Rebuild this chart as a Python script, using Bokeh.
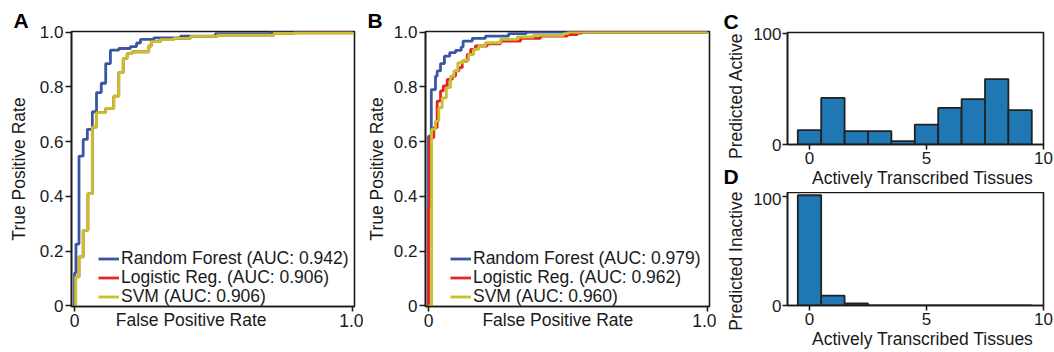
import math
from bokeh.plotting import figure
from bokeh.layouts import row, column
from bokeh.models import Range1d, Legend, LegendItem, FixedTicker, Title
from bokeh.embed import file_html
from bokeh.resources import INLINE

FONT = "Liberation Sans"
INK = "#1a1a1a"
C_RF = "#3a55a5"
C_LR = "#ec2128"
C_SVM = "#c4c230"
HIST_FILL = "#1f77b4"
HIST_EDGE = "#222222"
NB = "\u00a0"

# ---------------- data ----------------
# Panel A ROC curves (step vertices)
a_rf_fpr = [0, 0, 0.005, 0.016, 0.031, 0.046, 0.064, 0.079, 0.096, 0.112, 0.129, 0.159, 0.201, 0.223, 0.237, 0.285, 0.381, 0.507, 0.705, 0.79, 1.0]
a_rf_tpr = [0, 0.12, 0.226, 0.547, 0.608, 0.645, 0.709, 0.779, 0.813, 0.885, 0.934, 0.94, 0.947, 0.96, 0.973, 0.979, 0.985, 0.994, 0.998, 1.0, 1.0]
a_lr_fpr = [0, 0.004, 0.016, 0.031, 0.048, 0.064, 0.079, 0.112, 0.141, 0.159, 0.175, 0.189, 0.207, 0.267, 0.276, 0.309, 0.357, 0.417, 0.513, 0.717, 0.79, 1.0]
a_lr_tpr = [0, 0.106, 0.179, 0.276, 0.41, 0.653, 0.706, 0.721, 0.766, 0.852, 0.904, 0.921, 0.928, 0.949, 0.965, 0.972, 0.977, 0.984, 0.989, 0.995, 0.997, 1.0]
a_svm_fpr = [0, 0.004, 0.016, 0.031, 0.048, 0.064, 0.079, 0.112, 0.141, 0.159, 0.175, 0.189, 0.207, 0.267, 0.276, 0.309, 0.357, 0.417, 0.513, 0.717, 0.79, 1.0]
a_svm_tpr = [0, 0.106, 0.179, 0.276, 0.41, 0.653, 0.706, 0.721, 0.766, 0.852, 0.904, 0.921, 0.928, 0.949, 0.965, 0.972, 0.977, 0.984, 0.989, 0.995, 0.997, 1.0]
a_labels = ["Random Forest (AUC: 0.942)", "Logistic Reg. (AUC: 0.906)", "SVM (AUC: 0.906)"]

# Panel B ROC curves (step vertices)
b_rf_fpr = [0, 0, 0.01, 0.025, 0.031, 0.043, 0.057, 0.076, 0.097, 0.117, 0.124, 0.157, 0.204, 0.287, 0.35, 1.0]
b_rf_tpr = [0, 0.62, 0.79, 0.839, 0.858, 0.885, 0.912, 0.925, 0.933, 0.945, 0.967, 0.977, 0.985, 0.994, 1.0, 1.0]
b_lr_fpr = [0, 0, 0.004, 0.019, 0.031, 0.043, 0.053, 0.067, 0.085, 0.097, 0.109, 0.121, 0.139, 0.151, 0.168, 0.21, 0.258, 0.33, 0.401, 0.497, 0.533, 0.55, 1.0]
b_lr_tpr = [0, 0.36, 0.615, 0.651, 0.748, 0.785, 0.803, 0.827, 0.839, 0.858, 0.87, 0.894, 0.918, 0.937, 0.949, 0.957, 0.967, 0.977, 0.985, 0.991, 0.996, 1.0, 1.0]
b_svm_fpr = [0, 0.011, 0.011, 0.025, 0.037, 0.049, 0.064, 0.079, 0.091, 0.105, 0.124, 0.144, 0.162, 0.18, 0.204, 0.258, 0.318, 0.376, 0.484, 0.5, 1.0]
b_svm_tpr = [0, 0.36, 0.645, 0.675, 0.724, 0.76, 0.797, 0.839, 0.858, 0.888, 0.897, 0.918, 0.937, 0.949, 0.961, 0.973, 0.982, 0.988, 0.994, 1.0, 1.0]
b_labels = ["Random Forest (AUC: 0.979)", "Logistic Reg. (AUC: 0.962)", "SVM (AUC: 0.960)"]

# Panels C / D histograms
tissues = [0, 1, 2, 3, 4, 5, 6, 7, 8, 9]
active_counts = [13, 42, 12, 12, 3, 18, 33, 41, 59, 31]
inactive_counts = [101, 9, 2, 0, 0, 0, 0, 0, 0, 0]

roc_yticks = [0, 0.2, 0.4, 0.6, 0.8, 1.0]
roc_ytick_labels = ["0", "0.2", "0.4", "0.6", "0.8", "1.0"]
roc_xticks = [0, 1.0]
roc_xtick_labels = ["0", "1.0"]
hist_xticks = [0, 5, 10]
hist_yticks = [0, 100]


def style_axis(ax, size="17px"):
    ax.axis_line_color = INK
    ax.axis_line_width = 1.6
    ax.major_tick_in = 0
    ax.major_tick_out = 5
    ax.major_tick_line_color = INK
    ax.major_tick_line_width = 1.6
    ax.minor_tick_line_color = None
    ax.major_label_text_font = FONT
    ax.major_label_text_font_size = size
    ax.major_label_text_color = INK
    ax.major_label_standoff = 2
    ax.axis_label_text_font = FONT
    ax.axis_label_text_font_size = "17.5px"
    ax.axis_label_text_font_style = "normal"
    ax.axis_label_text_color = INK


def style_letter(t, offset):
    t.align = "left"
    t.offset = offset
    t.text_font = FONT
    t.text_font_size = "21px"
    t.text_font_style = "bold"
    t.text_color = "black"


def make_fig(w, h, xr, yr, bl, br, bt, bb, letter=None, letter_offset=0):
    p = figure(width=w, height=h, x_range=Range1d(*xr), y_range=Range1d(*yr),
               title=letter, output_backend="svg", toolbar_location=None, tools="",
               min_border_left=bl, min_border_right=br, min_border_top=bt, min_border_bottom=bb)
    if letter is not None:
        style_letter(p.title, letter_offset)
        p.title.standoff = 0
    p.xgrid.visible = False
    p.ygrid.visible = False
    p.outline_line_color = INK
    p.outline_line_width = 1.6
    p.outline_line_alpha = 1.0
    p.background_fill_color = "white"
    p.border_fill_color = "white"
    for ax in p.axis:
        style_axis(ax)
    return p


def roc_panel(w, bl, br, xr, curves, labels, leg_x, ylab_standoff, xlab_pad, letter):
    p = make_fig(w, 352, xr, (-0.002, 1.002), bl, br, 31, 46, letter, -58)
    p.yaxis.ticker = FixedTicker(ticks=roc_yticks)
    p.yaxis.major_label_overrides = {t: s for t, s in zip(roc_yticks, roc_ytick_labels)}
    p.yaxis.major_tick_out = 6
    p.yaxis.axis_label = "True Positive Rate"
    p.yaxis.axis_label_standoff = ylab_standoff
    p.xaxis.ticker = FixedTicker(ticks=roc_xticks)
    p.xaxis.major_label_overrides = {t: s for t, s in zip(roc_xticks, roc_xtick_labels)}
    p.xaxis.major_label_text_font_size = "17.5px"
    p.xaxis.major_label_standoff = 2
    # axis title sits on the same line as the tick labels, left of centre
    p.xaxis.axis_label = "False Positive Rate" + NB * xlab_pad
    p.xaxis.axis_label_standoff = -20
    rends = []
    for (fx, ty), col in zip(curves, [C_RF, C_LR, C_SVM]):
        r = p.step(x=fx, y=ty, mode="after", line_color=col, line_width=2.8)
        rends.append(r)
    # one single-row legend per entry, stacked 19 px apart
    for i, (l, r) in enumerate(zip(labels, rends)):
        leg = Legend(items=[LegendItem(label=l, renderers=[r])],
                     location=(leg_x, 37.5 - 19 * i), label_text_font=FONT,
                     label_text_font_size="17.5px", label_text_color=INK,
                     glyph_width=21, glyph_height=19, label_height=19, label_standoff=2,
                     padding=0, margin=0, spacing=0, border_line_color=None,
                     background_fill_alpha=0)
        p.add_layout(leg)
    return p


pA = roc_panel(363, 71, 9, (-0.011, 1.007),
               [(a_rf_fpr, a_rf_tpr), (a_lr_fpr, a_lr_tpr), (a_svm_fpr, a_svm_tpr)],
               a_labels, 27, 8, 9, "A")
pB = roc_panel(353, 62, 7, (-0.0108, 1.0072),
               [(b_rf_fpr, b_rf_tpr), (b_lr_fpr, b_lr_tpr), (b_svm_fpr, b_svm_tpr)],
               b_labels, 25, 4, 4, "B")


def hist_panel(h, bt, bb, yr, counts, ylabel, tick_standoff, letter=None):
    p = make_fig(338, h, (-0.94, 10.0), yr, 71, 11, bt, bb, letter, -64)
    p.xaxis.ticker = FixedTicker(ticks=hist_xticks)
    p.yaxis.ticker = FixedTicker(ticks=hist_yticks)
    p.yaxis.major_label_standoff = 1
    p.xaxis.major_label_standoff = tick_standoff
    p.xaxis.axis_label = NB * 3 + "Actively Transcribed Tissues"
    p.xaxis.axis_label_standoff = 1
    p.yaxis.axis_label = ylabel
    p.yaxis.axis_label_standoff = 4
    p.vbar(x=tissues, width=1.0, top=counts, bottom=0, fill_color=HIST_FILL,
           line_color=HIST_EDGE, line_width=1.8)
    return p


pC = hist_panel(192, 32, 48, (0, 101), active_counts, "Predicted Active" + NB * 3, 2, "C")
# panel letter "D" sits left of the lower panel, on the line of C's axis title
d_title = Title(text="D", vertical_align="top", standoff=-52)
style_letter(d_title, -64)
pC.add_layout(d_title, "below")

pD = hist_panel(160, 0, 47, (0, 103.5), inactive_counts, "Predicted Inactive" + NB * 5, 2)

layout = row(pA, pB, column(pC, pD))

open("out.html", "w").write(file_html(layout, INLINE))
